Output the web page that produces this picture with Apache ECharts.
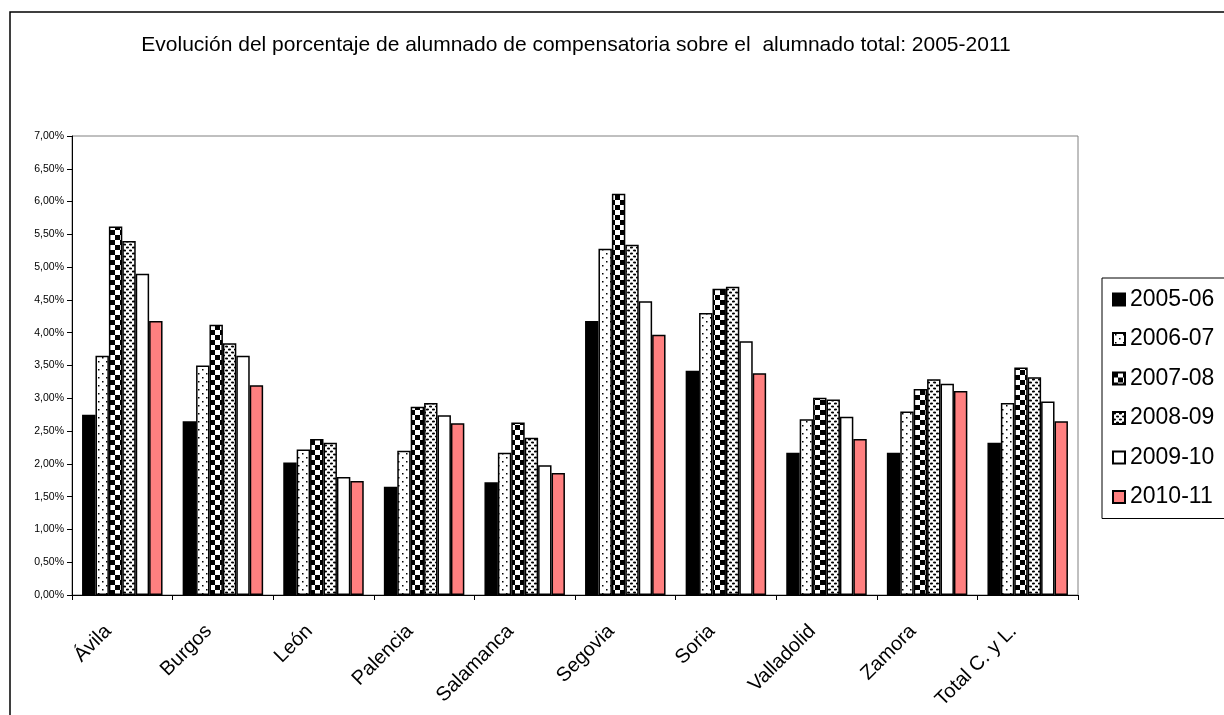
<!DOCTYPE html>
<html>
<head>
<meta charset="utf-8">
<script src="https://cdn.jsdelivr.net/npm/echarts@6/dist/echarts.min.js"></script>
<style>
html,body{margin:0;padding:0;background:#fff;}
#chart{width:1224px;height:715px;}
</style>
</head>
<body>
<div id="chart"></div>
<script>
var title = 'Evolución del porcentaje de alumnado de compensatoria sobre el  alumnado total: 2005-2011';
var categories = ['Ávila','Burgos','León','Palencia','Salamanca','Segovia','Soria','Valladolid','Zamora','Total C. y L.'];
var seriesNames = ['2005-06','2006-07','2007-08','2008-09','2009-10','2010-11'];
var s2005 = [2.75, 2.65, 2.02, 1.65, 1.72, 4.18, 3.42, 2.17, 2.17, 2.32];
var s2006 = [3.65, 3.50, 2.22, 2.20, 2.17, 5.28, 4.30, 2.68, 2.80, 2.93];
var s2007 = [5.62, 4.12, 2.38, 2.87, 2.63, 6.12, 4.67, 3.01, 3.14, 3.47];
var s2008 = [5.40, 3.84, 2.32, 2.93, 2.40, 5.34, 4.70, 2.98, 3.29, 3.32];
var s2009 = [4.90, 3.65, 1.80, 2.74, 1.98, 4.48, 3.87, 2.72, 3.22, 2.95];
var s2010 = [4.18, 3.20, 1.74, 2.62, 1.86, 3.97, 3.38, 2.38, 3.11, 2.65];
var yTicks = [0, 7, 0.5];

function makePattern(w, h, draw) {
  var c = document.createElement('canvas');
  c.width = w; c.height = h;
  var ctx = c.getContext('2d');
  ctx.fillStyle = '#fff';
  ctx.fillRect(0, 0, w, h);
  ctx.fillStyle = '#000';
  draw(ctx);
  return { image: c, repeat: 'repeat' };
}
var patDots = makePattern(8, 8, function (ctx) {
  ctx.fillRect(2, 1, 1.5, 1.5);
  ctx.fillRect(6, 5, 1.5, 1.5);
});
var patChecker = makePattern(10, 10, function (ctx) {
  ctx.fillRect(0, 0, 5, 5);
  ctx.fillRect(5, 5, 5, 5);
});
var patOval = makePattern(6, 6, function (ctx) {
  ctx.beginPath(); ctx.ellipse(1.5, 1.5, 1.6, 0.9, 0, 0, Math.PI * 2); ctx.fill();
  ctx.beginPath(); ctx.ellipse(4.5, 4.5, 1.6, 0.9, 0, 0, Math.PI * 2); ctx.fill();
});

var fills = ['#000000', patDots, patChecker, patOval, '#ffffff', '#ff8080'];
var datas = [s2005, s2006, s2007, s2008, s2009, s2010];

var series = seriesNames.map(function (n, i) {
  return {
    name: n,
    type: 'bar',
    data: datas[i],
    barGap: '0%',
    barCategoryGap: '20%',
    itemStyle: { color: fills[i], borderColor: '#000', borderWidth: 1.5 },
    emphasis: { disabled: true }
  };
});

var FONT = 'Liberation Sans, Arial, sans-serif';
var chart = echarts.init(document.getElementById('chart'), null, { renderer: 'canvas' });
chart.setOption({
  animation: false,
  backgroundColor: '#fff',
  textStyle: { fontFamily: FONT },
  graphic: [
    { type: 'rect', shape: { x: 10, y: 12, width: 1400, height: 900 },
      style: { fill: 'none', stroke: '#000', lineWidth: 1.5 }, silent: true, z: -1 },
    { type: 'text', x: 576, y: 45,
      style: { text: title, fontSize: 21, fontFamily: FONT, fill: '#000',
               textAlign: 'center', textVerticalAlign: 'middle' } }
  ],
  grid: { left: 72, right: 146, top: 136, bottom: 120, show: true, borderColor: '#808080', borderWidth: 1, containLabel: false },
  legend: {
    orient: 'vertical',
    left: 1102, top: 278,
    data: seriesNames,
    icon: 'rect',
    itemWidth: 12, itemHeight: 12,
    itemGap: 16.5,
    itemTextGap: 9,
    padding: [10, 30, 10, 10],
    borderColor: '#000', borderWidth: 1,
    textStyle: { fontSize: 23, color: '#000', fontFamily: FONT },
    selectedMode: false
  },
  xAxis: {
    type: 'category',
    data: categories,
    axisLine: { lineStyle: { color: '#000', width: 1 } },
    axisTick: { show: true, alignWithLabel: false, length: 5, lineStyle: { color: '#000' } },
    axisLabel: { rotate: 45, fontSize: 20, color: '#000', margin: 19, interval: 0,
                 padding: [0, 20, 0, 0] },
    splitLine: { show: false }
  },
  yAxis: {
    type: 'value',
    min: yTicks[0], max: yTicks[1], interval: yTicks[2],
    axisLine: { show: true, lineStyle: { color: '#000', width: 1 } },
    axisTick: { show: true, length: 5, lineStyle: { color: '#000' } },
    axisLabel: { fontSize: 10.5, color: '#000', margin: 8,
      formatter: function (v) { return v.toFixed(2).replace('.', ',') + '%'; } },
    splitLine: { show: false }
  },
  series: series
});
</script>
</body>
</html>
